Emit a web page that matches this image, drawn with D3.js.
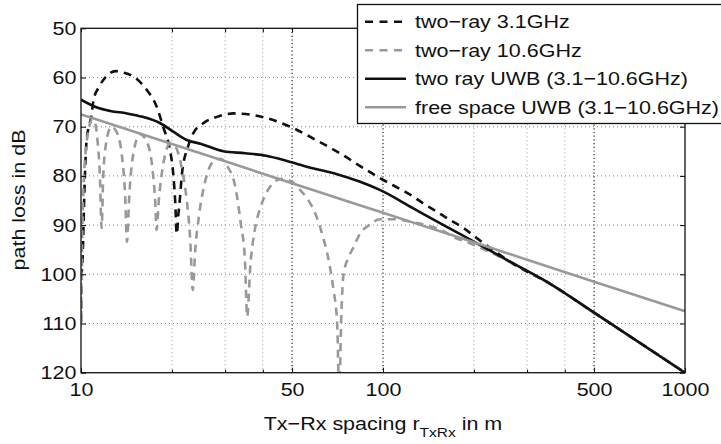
<!DOCTYPE html>
<html><head><meta charset="utf-8">
<script src="https://cdn.jsdelivr.net/npm/d3@7"></script>
<style>body{margin:0;background:#fff;} text{font-family:"Liberation Sans",Arial,Helvetica,sans-serif;}</style>
</head><body><svg id="c" width="721" height="444"></svg>
<script>
// ---- data (distance in m, path loss in dB) ----
const xTicks = [10, 50, 100, 500, 1000];
const xMinor = [20, 30, 40, 200, 300, 400];
const yTicks = [50, 60, 70, 80, 90, 100, 110, 120];
const legendLabels = ["two\u2212ray 3.1GHz", "two\u2212ray 10.6GHz", "two ray UWB (3.1\u221210.6GHz)", "free space UWB (3.1\u221210.6GHz)"];

const twoRay31 = [[10.0,100.5],[10.05,99.7],[10.13,96.4],[10.23,86.3],[10.31,79.5],[10.44,72.7],[10.84,67.6],[11.0,64.6],[11.5,61.8],[12.2,59.6],[13.0,58.7],[13.8,59.0],[14.9,59.8],[16.5,62.5],[17.8,65.9],[18.7,70],[19.7,74.7],[20.2,79.5],[20.5,85],[20.75,91.8],[21.0,88],[21.3,84],[21.6,79.5],[22.6,74.1],[23.5,71.4],[25.4,69.3],[28.2,68.0],[32,67.3],[37,67.6],[43,68.6],[50.5,70.3],[60,72.7],[72,75.4],[84,78.0],[98,80.5],[108,81.9],[123,83.8],[136,85.6],[150,87.2],[166,88.9],[185,90.6],[204,92.6],[226,94.6],[270,97.9],[350,101.6],[500,107.8],[1000,120]];

const twoRay106 = [[10.0,96],[10.03,110],[10.08,95],[10.15,86],[10.25,79],[10.4,74],[10.6,70.5],[10.9,68.5],[11.1,69],[11.35,73],[11.55,80],[11.7,90.6],[11.85,80],[12.1,73.5],[12.6,70],[13.1,71],[13.6,75],[14.0,84],[14.2,93.4],[14.45,84],[14.9,75.5],[15.7,71.5],[16.5,73],[17.2,78],[17.6,85],[17.8,91],[18.1,85],[18.8,77],[19.7,73.5],[20.5,74],[21.5,78],[22.4,85],[23.0,93],[23.45,103.2],[23.9,95],[24.6,88],[25.8,81],[27.5,77],[29,76.5],[30.5,78],[32.5,82.5],[33.8,89.6],[34.9,97.1],[35.5,108.6],[36.4,98],[37.5,91.5],[39.5,86],[42.5,82],[46,80.6],[50,81.2],[53,82.8],[56,84.5],[60,88],[63,92],[66,97],[68.5,103],[70.5,110],[71.6,124],[72.8,108],[74,100],[77,96.5],[80,94.4],[84,91.7],[90,90],[98,88.8],[110,88.8],[123,89.3],[139,90.0],[156,91.0],[171,92.4],[194,93.7],[219,95.1],[250,96.8],[283,98.5],[350,101.6],[500,107.8],[1000,120]];

const twoRayUWB = [[10,64.5],[11.3,66.1],[12.5,66.8],[14.2,67.3],[16,68.0],[18.3,69.3],[20.2,71.0],[22.4,72.7],[25,73.5],[29.6,75.0],[35,75.4],[41,75.9],[49,77.1],[59,78.5],[70,79.6],[84,81.2],[98,82.9],[126,86.6],[162,90.3],[209,94.0],[270,97.8],[348,101.5],[425,104.9],[500,107.8],[1000,120]];

const freeSpaceUWB = [[10,67.5],[20,73.5],[50,81.5],[100,87.5],[200,93.5],[500,101.5],[1000,107.5]];

// ---- layout ----
const FS = 18.7, SX = 1.15;
const L = 81, R = 685, T = 28.3, B = 372.7;
const svg = d3.select("#c");
const x = d3.scaleLog().domain([10, 1000]).range([L, R]);
const y = d3.scaleLinear().domain([50, 120]).range([T, B]);

// grid
const grid = svg.append("g");
grid.selectAll(".hg").data(yTicks.filter(v => v > 50 && v < 120)).enter().append("line")
  .attr("x1", L).attr("x2", R).attr("y1", d => y(d)).attr("y2", d => y(d))
  .attr("stroke", "#888").attr("stroke-width", 1).attr("stroke-dasharray", "1,3");
grid.selectAll(".vm").data(xMinor).enter().append("line")
  .attr("x1", d => x(d)).attr("x2", d => x(d)).attr("y1", T).attr("y2", B)
  .attr("stroke", "#999").attr("stroke-width", 1).attr("stroke-dasharray", "1,3");
grid.selectAll(".vM").data(xTicks.filter(v => v > 10 && v < 1000)).enter().append("line")
  .attr("x1", d => x(d)).attr("x2", d => x(d)).attr("y1", T).attr("y2", B)
  .attr("stroke", "#222").attr("stroke-width", 1.2).attr("stroke-dasharray", "1.2,2.5");

// clip
svg.append("clipPath").attr("id", "clip").append("rect")
  .attr("x", L).attr("y", T).attr("width", R - L).attr("height", B - T);

const line = d3.line().x(d => x(d[0])).y(d => y(d[1])).curve(d3.curveMonotoneX);
const plot = svg.append("g").attr("clip-path", "url(#clip)");
const series = [
  {data: twoRay31, color: "#111", dash: "8,6"},
  {data: twoRay106, color: "#999", dash: "8,6"},
  {data: twoRayUWB, color: "#111", dash: null},
  {data: freeSpaceUWB, color: "#999", dash: null}
];
series.forEach(s => {
  plot.append("path").attr("d", line(s.data)).attr("fill", "none")
    .attr("stroke", s.color).attr("stroke-width", 2.6)
    .attr("stroke-dasharray", s.dash);
});

// axes
function styleText(sel) {
  sel.selectAll("text").attr("font-size", FS).attr("fill", "#111")
    .attr("font-family", '"Liberation Sans",Arial,sans-serif')
    .attr("transform", `scale(${SX},1)`);
}
const gx = svg.append("g").attr("transform", `translate(0,${B})`)
  .call(d3.axisBottom(x).tickValues(xTicks).tickFormat(d3.format("d")).tickSizeInner(-5).tickSizeOuter(0).tickPadding(10.5));
gx.select(".domain").remove(); styleText(gx);
gx.selectAll(".tick line").attr("stroke", "#111");
const gxm = svg.append("g").attr("transform", `translate(0,${B})`)
  .call(d3.axisBottom(x).tickValues(xMinor).tickFormat("").tickSizeInner(-3).tickSizeOuter(0));
gxm.select(".domain").remove();
const gxt = svg.append("g").attr("transform", `translate(0,${T})`)
  .call(d3.axisTop(x).tickValues(xTicks.concat(xMinor)).tickFormat("").tickSizeInner(-4).tickSizeOuter(0));
gxt.select(".domain").remove();

const gy = svg.append("g").attr("transform", `translate(${L},0)`)
  .call(d3.axisLeft(y).tickValues(yTicks).tickSizeInner(-5).tickSizeOuter(0).tickPadding(4));
gy.select(".domain").remove(); styleText(gy);
const gyr = svg.append("g").attr("transform", `translate(${R},0)`)
  .call(d3.axisRight(y).tickValues(yTicks).tickFormat("").tickSizeInner(-5).tickSizeOuter(0));
gyr.select(".domain").remove();

svg.append("rect").attr("x", L).attr("y", T).attr("width", R - L).attr("height", B - T)
  .attr("fill", "none").attr("stroke", "#111").attr("stroke-width", 1.3);

// axis titles
const xt = svg.append("text").attr("transform", `translate(383,430) scale(${SX},1)`)
  .attr("text-anchor", "middle").attr("font-size", FS).attr("fill", "#111");
xt.append("tspan").text("Tx\u2212Rx spacing r");
xt.append("tspan").attr("font-size", FS * 0.72).attr("dy", 7).text("TxRx");
xt.append("tspan").attr("dy", -7).text(" in m");

svg.append("text").attr("transform", `translate(25,200) rotate(-90) scale(${SX},1)`)
  .attr("text-anchor", "middle").attr("font-size", FS).attr("fill", "#111").text("path loss in dB");

// legend
const lg = svg.append("g");
lg.append("rect").attr("x", 357.5).attr("y", 4.5).attr("width", 400).attr("height", 119)
  .attr("fill", "#fff").attr("stroke", "#111").attr("stroke-width", 1.3);
const rowY = [21.7, 50.3, 78.8, 107.3];
series.forEach((s, i) => {
  lg.append("line").attr("x1", 365).attr("x2", 406).attr("y1", rowY[i]).attr("y2", rowY[i])
    .attr("stroke", s.color).attr("stroke-width", 2.6).attr("stroke-dasharray", s.dash ? "8,6.5" : null);
  lg.append("text").attr("transform", `translate(415,${rowY[i] + 6.6}) scale(${SX},1)`)
    .attr("font-size", FS).attr("fill", "#111").text(legendLabels[i]);
});
</script></body></html>
